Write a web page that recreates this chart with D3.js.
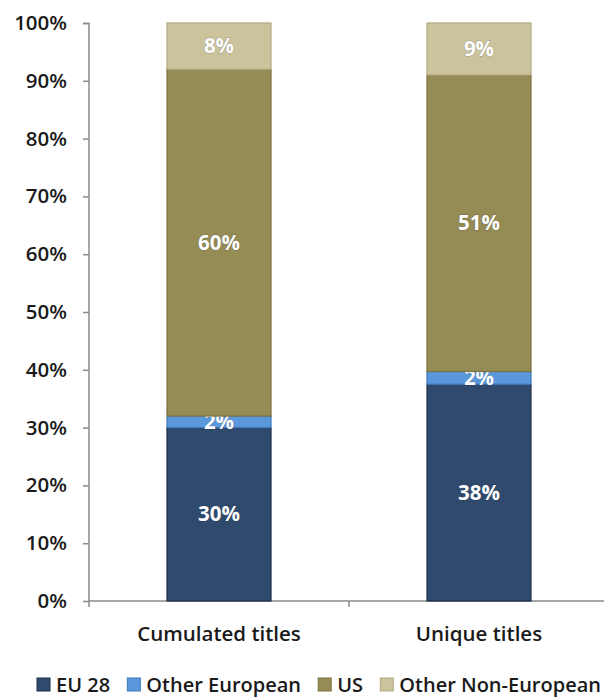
<!DOCTYPE html>
<html lang="en">
<head>
<meta charset="utf-8">
<title>Titles by origin</title>
<script src="https://d3js.org/d3.v7.min.js"></script>
<style>
  body { margin: 0; background: #fff; }
  svg text { font-family: "Open Sans", "DejaVu Sans", sans-serif; }
</style>
</head>
<body>
<script>
// data
var categories = ["Cumulated titles", "Unique titles"];
var seriesNames = ["EU 28", "Other European", "US", "Other Non-European"];
var eu28 = [30, 37.5];
var otherEuropean = [2, 2.2];
var us = [60, 51.3];
var otherNonEuropean = [8, 9];
var yTicks = [0, 10, 20, 30, 40, 50, 60, 70, 80, 90, 100];

var colors = ["#2f4a6d", "#5a97dc", "#958b55", "#cbc39c"];
var strokes = ["#1c2f4a", "#3f78b8", "#7a7140", "#b3aa80"];

var width = 604, height = 700;
var svg = d3.select("body").append("svg")
    .attr("width", width)
    .attr("height", height);

var x = d3.scaleBand()
    .domain(categories)
    .range([89, 609])
    .paddingInner(0.6)
    .paddingOuter(0.3);

var y = d3.scaleLinear()
    .domain([0, 100])
    .range([601, 23]);

// stack the four series
var rows = categories.map(function(c, i) {
    return { cat: c, "EU 28": eu28[i], "Other European": otherEuropean[i],
             "US": us[i], "Other Non-European": otherNonEuropean[i] };
});
var stacked = d3.stack().keys(seriesNames)(rows);

// y axis
var yAxis = svg.append("g")
    .attr("transform", "translate(89,0)")
    .call(d3.axisLeft(y).tickValues(yTicks).tickSize(6).tickPadding(16)
        .tickFormat(function(d) { return d + "%"; }));
yAxis.select(".domain").attr("stroke", "#8a8a8a").attr("stroke-width", 1.5)
    .attr("d", "M-6,23.5H0V601.5");
yAxis.selectAll(".tick line").attr("stroke", "#8a8a8a").attr("stroke-width", 1.5);
yAxis.selectAll(".tick text")
    .attr("fill", "#1a1a1a")
    .attr("font-size", 20.5)
    .attr("font-weight", 600);

// x axis baseline with band boundary ticks
var xAxis = svg.append("g");
xAxis.append("line")
    .attr("x1", 89).attr("x2", 609)
    .attr("y1", y(0)).attr("y2", y(0))
    .attr("stroke", "#8a8a8a").attr("stroke-width", 1.5);
var bounds = [89, x(categories[1]) - x.step() * x.paddingInner() / 2];
xAxis.selectAll(".bt").data(bounds).enter().append("line")
    .attr("x1", function(d) { return d; }).attr("x2", function(d) { return d; })
    .attr("y1", y(0)).attr("y2", y(0) + 6)
    .attr("stroke", "#8a8a8a").attr("stroke-width", 1.5);
xAxis.selectAll(".cl").data(categories).enter().append("text")
    .attr("x", function(d) { return x(d) + x.bandwidth() / 2; })
    .attr("y", 641)
    .attr("text-anchor", "middle")
    .attr("font-size", 20.5)
    .attr("font-weight", 600)
    .attr("fill", "#1a1a1a")
    .text(function(d) { return d; });

// bars
var layers = svg.selectAll(".layer")
    .data(stacked)
    .enter().append("g")
    .attr("class", "layer");

layers.selectAll("rect")
    .data(function(d) { return d.map(function(p) { p.key = d.key; p.idx = d.index; return p; }); })
    .enter().append("rect")
    .attr("x", function(d) { return x(d.data.cat); })
    .attr("width", x.bandwidth())
    .attr("y", function(d) { return y(d[1]); })
    .attr("height", function(d) { return y(d[0]) - y(d[1]); })
    .attr("fill", function(d) { return colors[d.idx]; })
    .attr("stroke", function(d) { return strokes[d.idx]; })
    .attr("stroke-width", 1.2);

// value labels
layers.selectAll("text")
    .data(function(d) { return d; })
    .enter().append("text")
    .attr("x", function(d) { return x(d.data.cat) + x.bandwidth() / 2; })
    .attr("y", function(d) { return (y(d[0]) + y(d[1])) / 2 + 7; })
    .attr("text-anchor", "middle")
    .attr("font-size", 20.5)
    .attr("font-weight", 700)
    .attr("fill", "#fff")
    .attr("stroke", "rgba(30,40,60,0.35)")
    .attr("stroke-width", 0.8)
    .attr("paint-order", "stroke")
    .text(function(d) { return Math.round(d[1] - d[0]) + "%"; });

// legend: spread the items between x=37 and x=601
var legend = svg.selectAll(".legend")
    .data(seriesNames)
    .enter().append("g")
    .attr("class", "legend");
legend.append("rect")
    .attr("width", 13).attr("height", 13)
    .attr("fill", function(d, i) { return colors[i]; })
    .attr("stroke", function(d, i) { return strokes[i]; });
legend.append("text")
    .attr("x", 19).attr("y", 14)
    .attr("font-size", 20)
    .attr("font-weight", 600)
    .attr("fill", "#1a1a1a")
    .text(function(d) { return d; });

var itemW = [];
legend.select("text").each(function() { itemW.push(19 + this.getComputedTextLength()); });
var gap = (601 - 37 - d3.sum(itemW)) / (itemW.length - 1);
var lx = 37;
legend.attr("transform", function(d, i) {
    var t = "translate(" + lx + ",678)";
    lx += itemW[i] + gap;
    return t;
});
</script>
</body>
</html>
